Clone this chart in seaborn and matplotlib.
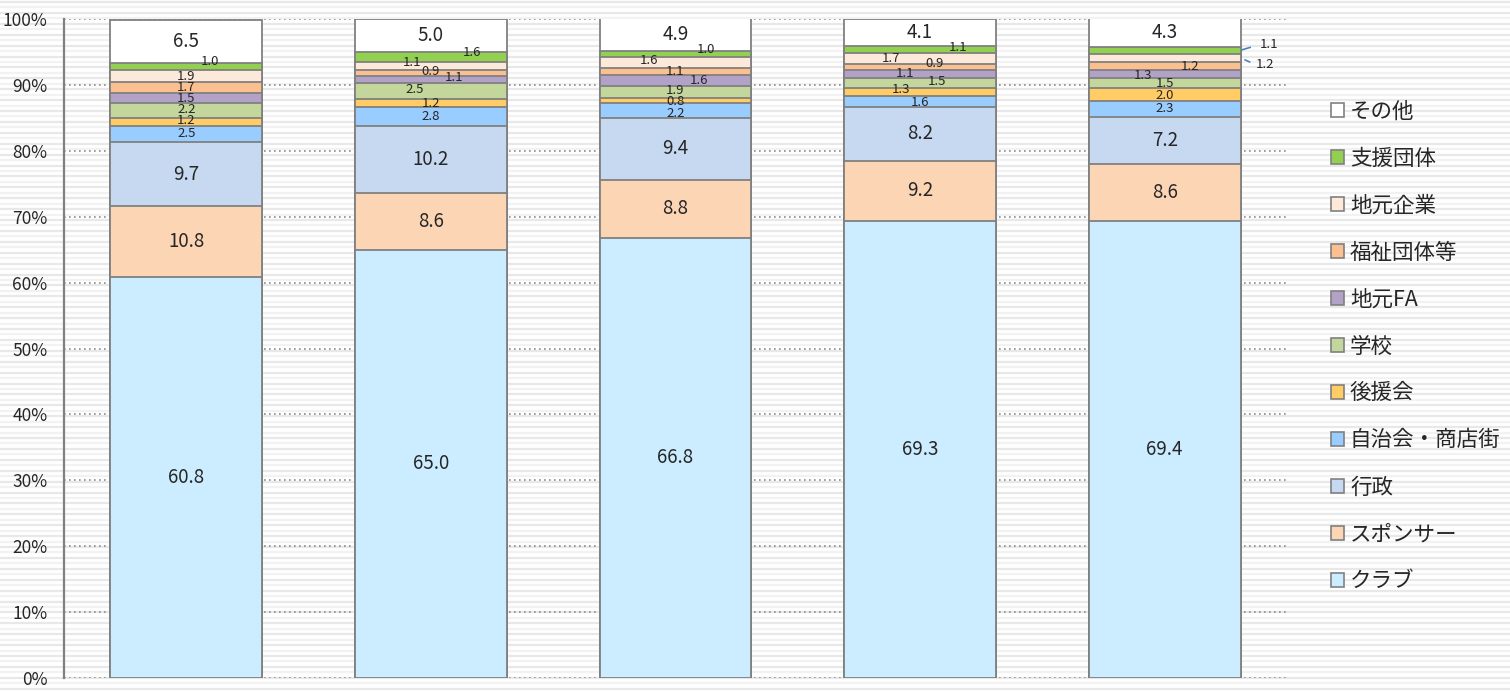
import numpy as np
import pandas as pd
import seaborn as sns
import matplotlib.pyplot as plt
from matplotlib.patches import Patch
from matplotlib.lines import Line2D

# five bars (no labels shown on the x axis in the original)
bars = ["1", "2", "3", "4", "5"]

# stacking order, bottom to top
categories = ["クラブ", "スポンサー", "行政", "自治会・商店街", "後援会", "学校",
              "地元FA", "福祉団体等", "地元企業", "支援団体", "その他"]

club = [60.8, 65.0, 66.8, 69.3, 69.4]
sponsor = [10.8, 8.6, 8.8, 9.2, 8.6]
gyosei = [9.7, 10.2, 9.4, 8.2, 7.2]
jichikai = [2.5, 2.8, 2.2, 1.6, 2.3]
koenkai = [1.2, 1.2, 0.8, 1.3, 2.0]
gakko = [2.2, 2.5, 1.9, 1.5, 1.5]
jimoto_fa = [1.5, 1.1, 1.6, 1.1, 1.3]
fukushi = [1.7, 0.9, 1.1, 0.9, 1.2]
jimoto_kigyo = [1.9, 1.1, 1.6, 1.7, 1.2]
shien = [1.0, 1.6, 1.0, 1.1, 1.1]
sonota = [6.5, 5.0, 4.9, 4.1, 4.3]

series = [club, sponsor, gyosei, jichikai, koenkai, gakko,
          jimoto_fa, fukushi, jimoto_kigyo, shien, sonota]

colors = ["#CCECFF", "#FCD5B5", "#C6D9F1", "#99CCFF", "#FFCC66", "#C3D69B",
          "#B3A2C7", "#FAC090", "#FDE9D9", "#92D050", "#FFFFFF"]

rows = []
for cat, vals in zip(categories, series):
    for b, v in zip(bars, vals):
        rows.append({"bar": b, "category": cat, "value": v})
df = pd.DataFrame(rows)
df["category"] = pd.Categorical(df["category"], categories, ordered=True)
df = df.sort_values(["bar", "category"])
df["top"] = df.groupby("bar")["value"].cumsum()
df["mid"] = df["top"] - df["value"] / 2

# label nudges in pixels (dx right, dy up) for the crowded small segments
nudges = {
    (0, "支援団体"): (24, 5), (0, "学校"): (0, 1), (0, "後援会"): (0, 1.5),
    (1, "支援団体"): (41, 5), (1, "地元企業"): (-19, 4), (1, "福祉団体等"): (0, 1),
    (1, "地元FA"): (23, 2), (1, "学校"): (-16, 2),
    (2, "支援団体"): (30, 4), (2, "地元企業"): (-26, 1.5), (2, "地元FA"): (24, 0),
    (2, "学校"): (0, 1), (2, "後援会"): (0, -0.5), (2, "自治会・商店街"): (0, -3),
    (3, "支援団体"): (38, 2.5), (3, "地元企業"): (-29, 0), (3, "福祉団体等"): (14, 3.5),
    (3, "地元FA"): (-15, 1), (3, "学校"): (17, 1.5), (3, "後援会"): (-19, 2),
    (3, "自治会・商店街"): (0, -1),
    (4, "福祉団体等"): (25, -1), (4, "地元FA"): (-22, -1), (4, "後援会"): (0, -1),
}
# labels outside the last bar with a leader line:
# (dx from bar edge, dy, gap at text, gap at bar)
outside = {(4, "支援団体"): (29, 6, 5, 1), (4, "地元企業"): (25, -7, 2.5, 3.5)}

sns.set_style("white")
plt.rcParams["font.family"] = ["Noto Sans CJK JP", "DejaVu Sans"]

W, H, DPI = 1510, 692, 100
fig = plt.figure(figsize=(W / DPI, H / DPI), dpi=DPI)

# striped background
for i, yp in enumerate(np.arange(2, H, 5.45)):
    c = "#E8E8E8" if i % 2 == 0 else "#F2F2F2"
    fig.add_artist(Line2D([0, 1], [1 - yp / H] * 2, color=c, lw=1.6, zorder=0))

ax = fig.add_axes([64 / W, 1 - 678 / H, (1287 - 64) / W, (678 - 19) / H])
ax.patch.set_alpha(0)

bar_w = 0.62
edge = "#808080"
for cat, col in zip(categories[::-1], colors[::-1]):
    sub = df[df["category"] == cat]
    sns.barplot(data=sub, x="bar", y="top", order=bars, color=col, width=bar_w,
                edgecolor=edge, linewidth=1.3, saturation=1, errorbar=None, ax=ax, zorder=2)

big = {"クラブ", "スポンサー", "行政", "その他"}
for _, r in df.iterrows():
    i = bars.index(r["bar"])
    cat = r["category"]
    txt = f"{r['value']:.1f}"
    if (i, cat) in outside:
        dx, dy, ga, gb = outside[(i, cat)]
        ax.annotate(txt, xy=(i + bar_w / 2, r["mid"]),
                    xytext=(dx * 0.72, dy * 0.72),
                    textcoords="offset points", ha="center", va="center", fontsize=9.5,
                    arrowprops=dict(arrowstyle="-", color="#4F81BD", lw=1.2,
                                    relpos=(0, 0.5), shrinkA=ga, shrinkB=gb),
                    zorder=5, annotation_clip=False)
        continue
    dx, dy = nudges.get((i, cat), (0, 0))
    fs = 13.5 if cat in big else 9.5
    ax.annotate(txt, xy=(i, r["mid"]), xytext=(dx * 0.72, dy * 0.72),
                textcoords="offset points", ha="center", va="center",
                fontsize=fs, zorder=5)

ax.set_xlim(-0.5, 4.5)
ax.set_ylim(0, 100)
ax.set_yticks(np.arange(0, 101, 10))
ax.set_yticklabels([f"{v}%" for v in range(0, 101, 10)])
ax.set_xlabel("")
ax.set_ylabel("")
ax.tick_params(axis="x", length=0, labelbottom=False)
ax.tick_params(axis="y", direction="out", length=5, width=1.3, color=edge,
               labelsize=12.5, pad=7)
ax.yaxis.grid(True, linestyle=(0, (1, 2)), color="#8C8C8C", linewidth=1.2)
ax.set_axisbelow(True)
for s in ["top", "right", "bottom"]:
    ax.spines[s].set_visible(False)
ax.spines["left"].set_color(edge)
ax.spines["left"].set_linewidth(1.6)

handles = [Patch(facecolor=c, edgecolor=edge, linewidth=1.2) for c in colors[::-1]]
fig.legend(handles, categories[::-1], loc="upper left",
           bbox_to_anchor=(1322 / W, 1 - 92 / H), frameon=False, fontsize=15.5,
           handlelength=0.6, handleheight=0.6, handletextpad=0.3, labelspacing=1.16,
           borderaxespad=0)

fig.savefig("out.png", dpi=DPI)
